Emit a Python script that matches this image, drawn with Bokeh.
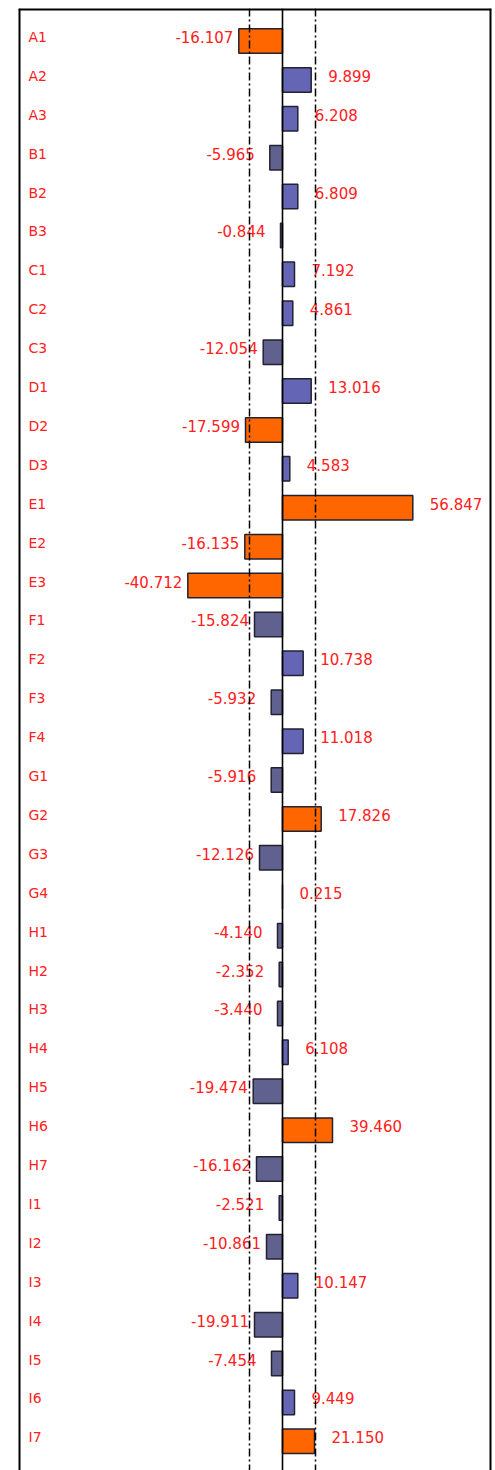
from bokeh.plotting import figure
from bokeh.models import Range1d, Span, ColumnDataSource
from bokeh.core.properties import value
from bokeh.embed import file_html
from bokeh.resources import INLINE

rows = ["A1", "A2", "A3", "B1", "B2", "B3", "C1", "C2", "C3", "D1", "D2", "D3",
        "E1", "E2", "E3", "F1", "F2", "F3", "F4", "G1", "G2", "G3", "G4",
        "H1", "H2", "H3", "H4", "H5", "H6", "H7",
        "I1", "I2", "I3", "I4", "I5", "I6", "I7"]

label_vals = [-16.107, 9.899, 6.208, -5.965, 6.809, -0.844, 7.192, 4.861, -12.054,
              13.016, -17.599, 4.583, 56.847, -16.135, -40.712, -15.824, 10.738,
              -5.932, 11.018, -5.916, 17.826, -12.126, 0.215, -4.140, -2.352,
              -3.440, 6.108, -19.474, 39.460, -16.162, -2.521, -10.861, 10.147,
              -19.911, -7.454, 9.449, 21.150]

# drawn bar lengths (chart units)
bar_len = [-43.7, 28.7, 15.3, -12.7, 15.3, -2.0, 12.0, 10.3, -19.3, 28.7, -37.0,
           7.3, 130.3, -37.7, -94.7, -28.0, 20.7, -11.3, 20.7, -11.3, 38.7, -23.0,
           0.0, -5.0, -3.3, -5.0, 5.7, -29.3, 50.0, -26.0, -3.3, -16.0, 15.3,
           -28.0, -11.0, 12.0, 32.0]

highlight = [1, 0, 0, 0, 0, 0, 0, 0, 0, 0, 1, 0, 1, 1, 1, 0, 0, 0, 0, 0, 1, 0, 0,
             0, 0, 0, 0, 0, 1, 0, 0, 0, 0, 0, 0, 0, 1]

threshold = 33.0

ORANGE = "#ff6600"
POS = "#6565b5"
NEG = "#61618f"
RED = "#ff2020"

ys = list(range(len(rows)))
colors = [ORANGE if h else (POS if b >= 0 else NEG) for b, h in zip(bar_len, highlight)]
lefts = [min(0.0, b) for b in bar_len]
rights = [max(0.0, b) for b in bar_len]

bars = ColumnDataSource(dict(y=ys, left=lefts, right=rights, color=colors))

pos_idx = [i for i, b in enumerate(bar_len) if b >= 0]
neg_idx = [i for i, b in enumerate(bar_len) if b < 0]
pos_src = ColumnDataSource(dict(
    y=[ys[i] for i in pos_idx], x=[bar_len[i] for i in pos_idx],
    t=["%.3f" % label_vals[i] for i in pos_idx]))
neg_src = ColumnDataSource(dict(
    y=[ys[i] for i in neg_idx], x=[bar_len[i] for i in neg_idx],
    t=["%.3f" % label_vals[i] for i in neg_idx],
    xo=[-5.5 if abs(bar_len[i]) >= 14 else -15.0 for i in neg_idx]))

x_start, x_end = -264.0, 209.0
y_bottom, y_top = 36.75, -0.835
p = figure(width=495, height=1470, output_backend="svg", toolbar_location=None,
           x_range=Range1d(x_start, x_end), y_range=Range1d(y_bottom, y_top),
           min_border_left=18, min_border_right=4, min_border_top=8, min_border_bottom=0,
           x_axis_location=None, y_axis_location=None)
p.grid.visible = False
p.outline_line_color = None
p.background_fill_color = "white"
p.border_fill_color = "white"

# frame on left, right and top (it continues past the bottom of the page)
for loc in (x_start, x_end):
    p.add_layout(Span(location=loc, dimension="height", line_color="black", line_width=4))
p.add_layout(Span(location=y_top, dimension="width", line_color="black", line_width=4))

for loc in (-threshold, threshold):
    p.add_layout(Span(location=loc, dimension="height", line_color="black",
                      line_width=1.5, line_dash="8 3 2 3"))

p.hbar(y="y", left="left", right="right", height=0.63, fill_color="color",
       line_color="#222233", line_width=1.5, source=bars)

p.add_layout(Span(location=0, dimension="height", line_color="black", line_width=1.6))

font = value("DejaVu Sans")
p.text(x=x_start, y=ys, text=rows, x_offset=10, y_offset=-4, text_align="left",
       text_baseline="middle", text_font=font, text_font_size="14px", text_color=RED)
p.text(x="x", y="y", text="t", source=pos_src, x_offset=17, y_offset=-4,
       text_align="left", text_baseline="middle", text_font=font,
       text_font_size="15px", text_color=RED)
p.text(x="x", y="y", text="t", source=neg_src, x_offset="xo", y_offset=-4,
       text_align="right", text_baseline="middle", text_font=font,
       text_font_size="15px", text_color=RED)

open("out.html", "w").write(file_html(p, INLINE))
